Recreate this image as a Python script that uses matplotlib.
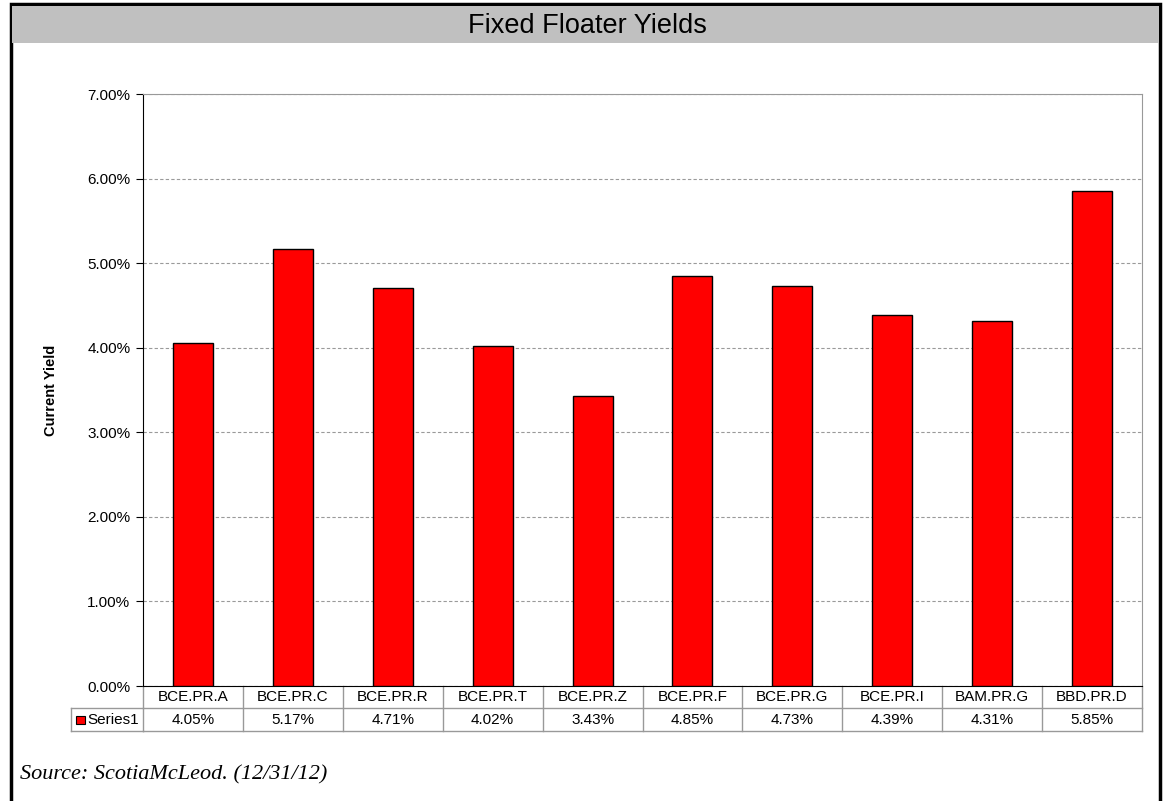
import numpy as np
import matplotlib
matplotlib.use("Agg")
import matplotlib.pyplot as plt
import matplotlib.transforms as mtransforms
from matplotlib.patches import Rectangle
from matplotlib.lines import Line2D

tickers = ["BCE.PR.A", "BCE.PR.C", "BCE.PR.R", "BCE.PR.T", "BCE.PR.Z",
           "BCE.PR.F", "BCE.PR.G", "BCE.PR.I", "BAM.PR.G", "BBD.PR.D"]
yields = [4.05, 5.17, 4.71, 4.02, 3.43, 4.85, 4.73, 4.39, 4.31, 5.85]
series_name = "Series1"
title = "Fixed Floater Yields"
source = "Source: ScotiaMcLeod. (12/31/12)"

plt.rcParams['font.family'] = ['Liberation Sans', 'DejaVu Sans']

W, H = 1164, 801
fig = plt.figure(figsize=(W / 100, H / 100), dpi=100)


def fx(px):
    return px / W


def fy(py):
    return 1 - py / H


# outer frame and title band
fig.patches.append(Rectangle((fx(11), fy(830)), fx(1160) - fx(11), fy(4) - fy(830),
                             transform=fig.transFigure, fill=False, edgecolor="black", lw=2.5))
fig.patches.append(Rectangle((fx(12), fy(43)), fx(1159) - fx(12), fy(6) - fy(43),
                             transform=fig.transFigure, facecolor="#c0c0c0", edgecolor="none"))
fig.text(fx(587), fy(26), title, ha="center", va="center", fontsize=19.5,
         family=["Liberation Sans Narrow", "Liberation Sans"])

ax = fig.add_axes([fx(143), fy(686), fx(1142) - fx(143), fy(94) - fy(686)])
x = np.arange(len(tickers))
ax.bar(x, yields, width=0.4, color="#ff0000", edgecolor="black", lw=1, zorder=3)
ax.set_xlim(-0.5, len(tickers) - 0.5)
ax.set_ylim(0, 7)
ax.set_yticks(np.arange(0, 8, 1))
ax.set_yticklabels([f"{v:.2f}%" for v in range(8)], fontsize=11)
ax.set_xticks([])
ax.tick_params(axis="y", direction="out", length=5, width=0.8, pad=4)
ax.yaxis.grid(True, color="#9a9a9a", linestyle=(0, (3, 2)), lw=0.8)
ax.set_axisbelow(True)
for s in ["top", "right"]:
    ax.spines[s].set_color("#999999")
ax.spines["left"].set_color("black")
ax.spines["bottom"].set_color("black")
ax.set_ylabel("Current Yield", fontsize=10.5, fontweight="bold", labelpad=21)

# data table below the axis
tr = mtransforms.blended_transform_factory(ax.transData, ax.transAxes)
ph = ax.get_position().height * H
r1 = -22 / ph
r2 = -45 / ph
grey = "#999999"
for b in np.arange(-0.5, len(tickers), 1.0):
    ax.add_line(Line2D([b, b], [0, r2], transform=tr, color=grey, lw=1, clip_on=False))
ax.add_line(Line2D([-0.5, len(tickers) - 0.5], [r1, r1], transform=tr, color=grey, lw=1, clip_on=False))
ax.add_line(Line2D([-0.5, len(tickers) - 0.5], [r2, r2], transform=tr, color=grey, lw=1, clip_on=False))
for i, (t, v) in enumerate(zip(tickers, yields)):
    ax.text(i, r1 / 2, t, transform=tr, ha="center", va="center", fontsize=11)
    ax.text(i, (r1 + r2) / 2, f"{v:.2f}%", transform=tr, ha="center", va="center", fontsize=11)

# series header cell
fig.add_artist(Line2D([fx(71), fx(143)], [fy(708), fy(708)], transform=fig.transFigure, color=grey, lw=1))
fig.add_artist(Line2D([fx(71), fx(143)], [fy(731), fy(731)], transform=fig.transFigure, color=grey, lw=1))
fig.add_artist(Line2D([fx(71), fx(71)], [fy(708), fy(731)], transform=fig.transFigure, color=grey, lw=1))
fig.patches.append(Rectangle((fx(76), fy(724)), fx(85) - fx(76), fy(716) - fy(724),
                             transform=fig.transFigure, facecolor="#ff0000", edgecolor="black", lw=0.8))
fig.text(fx(87), fy(720), series_name, ha="left", va="center", fontsize=11)

fig.text(fx(20), fy(779), source, ha="left", va="baseline", fontsize=16,
         family=["Liberation Serif", "DejaVu Serif"], style="italic")

fig.savefig("out.png", dpi=100)
